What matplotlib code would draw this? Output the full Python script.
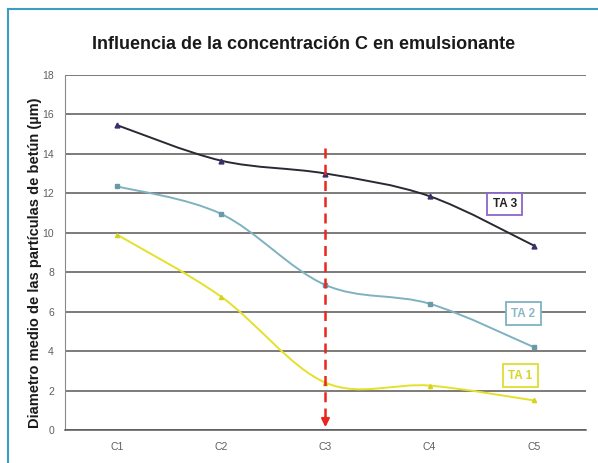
import matplotlib
matplotlib.use('Agg')
import matplotlib.pyplot as plt
from matplotlib.path import Path
import matplotlib.patches as mpatches
from matplotlib.lines import Line2D

# ── datos ────────────────────────────────────────────
categorias = ['C1', 'C2', 'C3', 'C4', 'C5']
ta3 = [15.45, 13.65, 13.0, 11.85, 9.35]
ta2 = [12.35, 10.95, 7.35, 6.4, 4.2]
ta1 = [9.9, 6.75, 2.4, 2.25, 1.5]
yticks = [0, 2, 4, 6, 8, 10, 12, 14, 16, 18]

FONT = ['Liberation Sans Narrow', 'Liberation Sans', 'DejaVu Sans']
C_TA3 = '#2b2833'
C_TA2 = '#7fb2c0'
C_TA1 = '#e4e12a'
GRID = '#5a5656'
FRAME = '#3d9cc4'

fig = plt.figure(figsize=(5.98, 4.63), dpi=100, facecolor='white')
ax = fig.add_axes([0.1087, 0.0713, 0.871, 0.767])
ax.set_facecolor('white')

x = list(range(len(categorias)))


def smooth(ax, xs, ys, color, lw):
    # curva suavizada tipo Excel (Catmull-Rom -> Bezier)
    verts = [(xs[0], ys[0])]
    codes = [Path.MOVETO]
    n = len(xs)
    for i in range(n - 1):
        p0 = (xs[max(i - 1, 0)], ys[max(i - 1, 0)])
        p1 = (xs[i], ys[i])
        p2 = (xs[i + 1], ys[i + 1])
        p3 = (xs[min(i + 2, n - 1)], ys[min(i + 2, n - 1)])
        t = 1 / 6
        c1 = (p1[0] + (p2[0] - p0[0]) * t, p1[1] + (p2[1] - p0[1]) * t)
        c2 = (p2[0] - (p3[0] - p1[0]) * t, p2[1] - (p3[1] - p1[1]) * t)
        verts += [c1, c2, p2]
        codes += [Path.CURVE4] * 3
    ax.add_patch(mpatches.PathPatch(Path(verts, codes), facecolor='none',
                                    edgecolor=color, lw=lw, zorder=3))


smooth(ax, x, ta3, C_TA3, 1.4)
smooth(ax, x, ta2, C_TA2, 1.4)
smooth(ax, x, ta1, C_TA1, 1.4)
ax.plot(x, ta3, ls='none', marker='^', ms=3.5, color='#3a2f6a', zorder=4)
ax.plot(x, ta2, ls='none', marker='s', ms=3, color='#6a9aa8', zorder=4)
ax.plot(x, ta1, ls='none', marker='^', ms=3, color='#d8d020', zorder=4)

# flecha roja discontinua en C3
ax.plot([2, 2], [14.3, 0.6], color='#e8281e', lw=1.8, ls=(0, (4, 2.5)), zorder=5)
ax.annotate('', xy=(2, 0.0), xytext=(2, 0.8),
            arrowprops=dict(arrowstyle='-|>', color='#e8281e', lw=1.6,
                            mutation_scale=12), zorder=5)

ax.set_xlim(-0.5, 4.5)
ax.set_ylim(0, 18)
ax.set_yticks(yticks)
ax.set_xticks(x)
ax.set_xticklabels(categorias)
ax.yaxis.grid(True, color=GRID, lw=1.1)
ax.set_axisbelow(True)
for s in ['top', 'right']:
    ax.spines[s].set_visible(False)
ax.spines['left'].set_color('#8a8a8a')
ax.spines['left'].set_linewidth(0.8)
ax.spines['bottom'].set_color(GRID)
ax.spines['bottom'].set_linewidth(1.1)
ax.tick_params(axis='both', length=0, labelsize=7.5, labelcolor='#5e5e5e', pad=9)
ax.tick_params(axis='y', pad=8)
for lab in ax.get_xticklabels() + ax.get_yticklabels():
    lab.set_family(FONT)

ax.set_ylabel('Diametro medio de las partículas de betún (µm)', fontsize=10.5,
              fontweight='bold', family=FONT, color='#1a1a1a', labelpad=9)
ax.yaxis.set_label_coords(-0.045, 0.47)

# etiquetas de serie
def etiqueta(xp, yp, txt, edge, tc):
    ax.text(xp, yp, txt, ha='center', va='center', fontsize=8.5,
            fontweight='bold', family=FONT, color=tc, zorder=6,
            bbox=dict(boxstyle='square,pad=0.45', facecolor='white',
                      edgecolor=edge, lw=1.3))

etiqueta(3.72, 11.45, 'TA 3', '#8a66c8', '#222222')
etiqueta(3.9, 5.9, 'TA 2', '#7fb2c0', '#8ab8c4')
etiqueta(3.87, 2.75, 'TA 1', '#dede30', '#d8d428')

fig.text(0.507, 0.903, 'Influencia de la concentración C en emulsionante',
         ha='center', va='center', fontsize=13, fontweight='bold',
         family=FONT, color='#1a1a1a')

# marco azul
fig.add_artist(Line2D([0.0134, 1.0], [0.981, 0.981], color=FRAME, lw=1.5,
                      transform=fig.transFigure))
fig.add_artist(Line2D([0.0134, 0.0134], [0.0, 0.981], color=FRAME, lw=1.5,
                      transform=fig.transFigure))

fig.savefig('out.png', dpi=100, facecolor='white')
